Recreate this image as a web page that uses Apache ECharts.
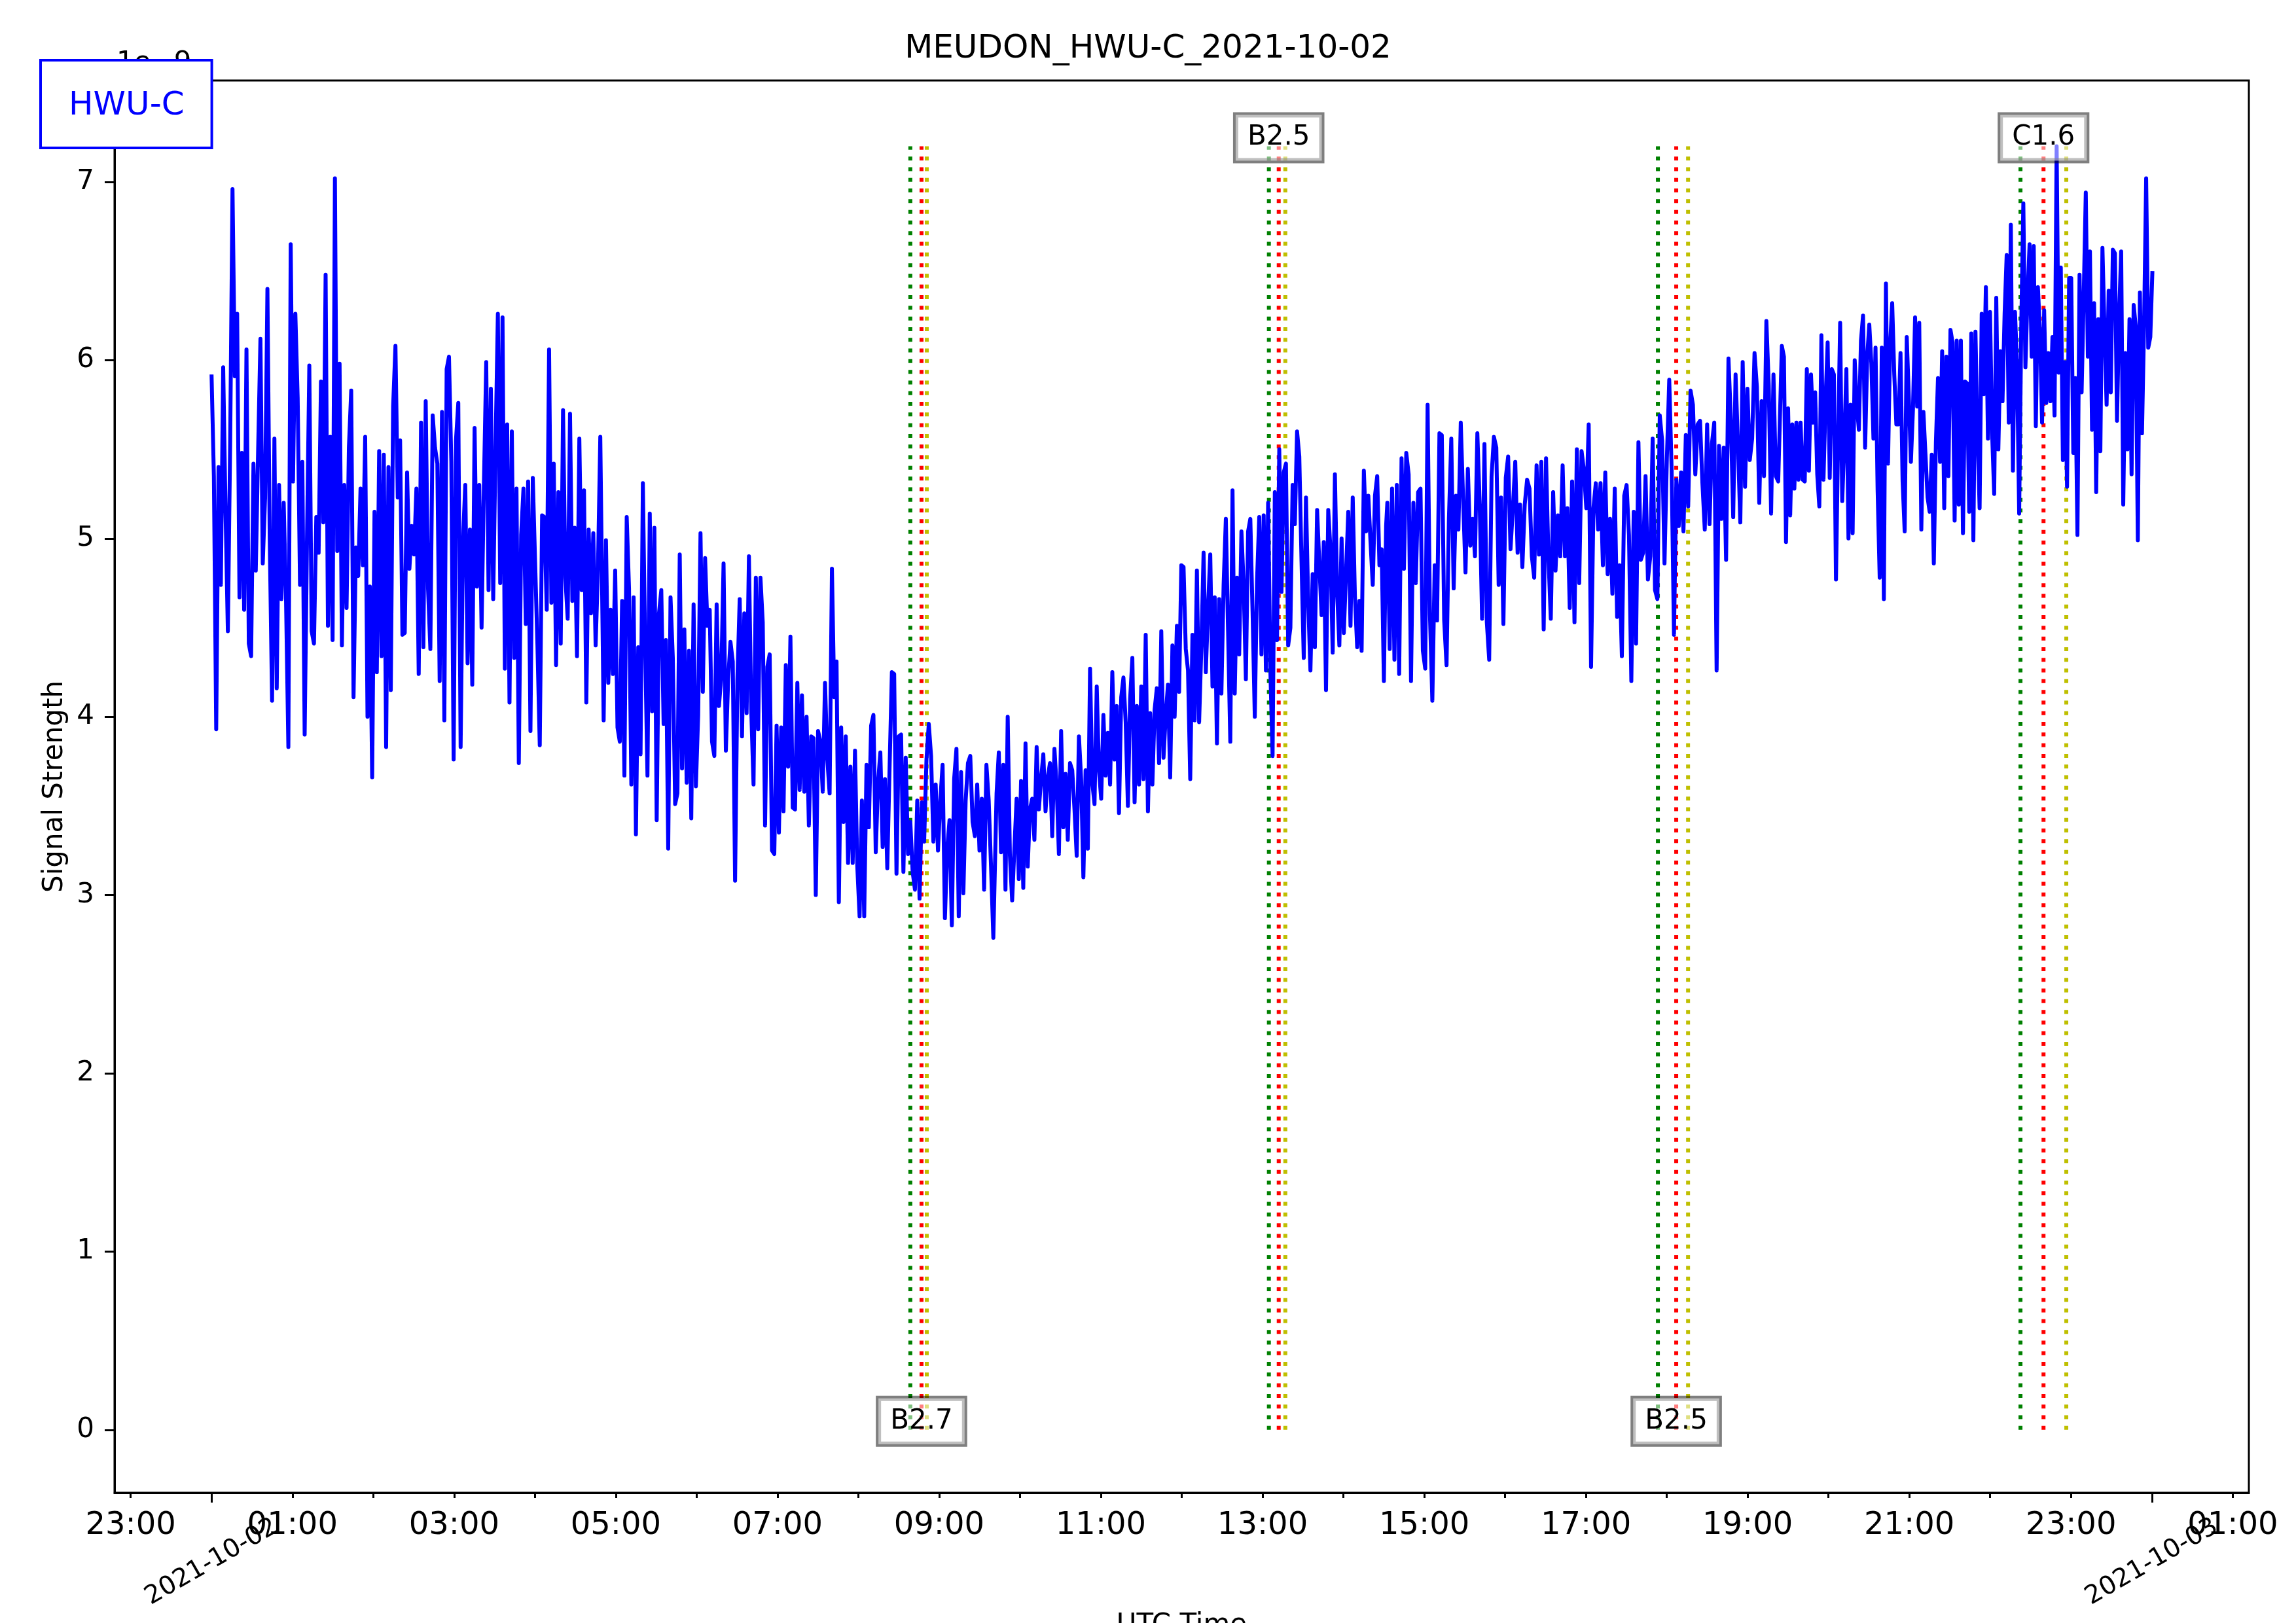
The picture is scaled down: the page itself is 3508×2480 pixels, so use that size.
<!DOCTYPE html>
<html>
<head>
<meta charset="utf-8">
<script src="https://cdn.jsdelivr.net/npm/echarts@6/dist/echarts.min.js"></script>
<style>html,body{margin:0;padding:0;background:#fff}#chart{width:3508px;height:2480px}</style>
</head>
<body>
<div id="chart"></div>
<script>
// ---------------- DATA (signal strength in units of 1e-9, time in minutes after 2021-10-02 00:00 UTC) ----------------
const spanA = [0, 288.5];
const sigA = [5.92,5.35,3.93,5.4,4.74,5.96,5.16,4.48,5.54,6.96,5.91,6.26,4.67,5.48,4.6,6.06,4.41,4.34,5.42,4.82,5.49,6.12,4.86,5.23,6.4,4.99,4.09,5.56,4.16,5.3,4.66,5.2,4.65,3.83,6.65,5.32,6.26,5.79,4.74,5.43,3.9,4.99,5.97,4.48,4.41,5.12,4.92,5.88,5.09,6.48,4.51,5.57,4.43,7.02,4.93,5.98,4.4,5.3,4.61,5.51,5.83,4.11,4.95,4.79,5.28,4.85,5.57,4.0,4.73,3.66,5.15,4.25,5.49,4.34,5.47,3.83,5.4,4.15,5.74,6.08,5.23,5.55,4.46,4.47,5.37,4.83,5.07,4.91,5.28,4.24,5.65,4.39,5.77,4.72,4.38,5.69,5.51,5.42,4.2,5.71,3.98,5.95,6.02,5.43,3.76,5.55,5.76,3.83,4.99,5.3,4.3,5.05,4.18,5.62,4.73,5.3,4.5,5.3,5.99,4.71,5.84,4.66,5.51,6.26,4.75,6.24,4.27,5.64,4.08,5.6,4.33,5.28,3.74,5.02,5.28,4.52,5.32,3.92,5.34,4.87,4.4,3.84,5.13,5.12,4.6,6.06,4.64,5.42,4.29,5.26,4.41,5.72,4.78,4.55,5.7,4.65,5.06,4.34,5.56,4.71,5.27,4.08,5.05,4.58,5.03,4.4,4.83,5.57];
const spanB = [291.0, 580.2];
const sigB = [3.98,4.99,4.19,4.6,4.24,4.82,3.94,3.86,4.65,3.67,5.12,4.72,3.62,4.67,3.34,4.39,3.79,5.31,4.39,3.67,5.14,4.03,5.06,3.42,4.58,4.71,3.96,4.43,3.26,4.67,4.33,3.51,3.57,4.91,3.71,4.49,3.63,4.37,3.43,4.63,3.61,4.01,5.03,4.14,4.89,4.51,4.6,3.86,3.78,4.63,4.06,4.22,4.86,3.81,4.21,4.42,4.31,3.08,4.21,4.66,3.89,4.58,4.02,4.9,4.04,3.62,4.78,3.93,4.78,4.53,3.39,4.28,4.35,3.25,3.23,3.95,3.35,3.94,3.47,4.29,3.72,4.45,3.49,3.48,4.19,3.59,4.12,3.58,4.0,3.39,3.89,3.88,3.0,3.92,3.86,3.58,4.19,3.76,3.57,4.83,4.11,4.31,2.96,3.94,3.41,3.89,3.18,3.72,3.18,3.81,3.16,2.88,3.53,2.88,3.73,3.38,3.95,4.01,3.24,3.63,3.8,3.27,3.65,3.15,3.71,4.25,4.24,3.12,3.89,3.9,3.13,3.77,3.23,3.41,3.13,3.03,3.53,2.98,3.52,3.3,3.76,3.96,3.78,3.3,3.62,3.25,3.53,3.73,2.87,3.26,3.42,2.83,3.65,3.82,2.88,3.69,3.01,3.53,3.74,3.78,3.41,3.33,3.62,3.25,3.54,3.03,3.73,3.53,3.16,2.76];
const spanC = [582.6, 871.7];
const sigC = [3.57,3.8,3.24,3.73,3.03,4.0,3.22,2.97,3.26,3.54,3.09,3.64,3.04,3.85,3.16,3.48,3.54,3.31,3.83,3.48,3.65,3.79,3.47,3.66,3.74,3.33,3.82,3.61,3.23,3.92,3.38,3.68,3.31,3.74,3.7,3.48,3.22,3.89,3.65,3.1,3.7,3.26,4.27,3.63,3.51,4.17,3.7,3.54,4.01,3.67,3.91,3.62,4.25,3.76,4.06,3.46,4.11,4.22,3.97,3.5,4.1,4.33,3.52,4.06,3.62,4.17,3.65,4.46,3.47,4.02,3.62,4.04,4.16,3.74,4.48,3.77,4.01,4.18,3.66,4.4,4.0,4.51,4.14,4.85,4.84,4.38,4.26,3.65,4.46,3.98,4.82,3.97,4.39,4.92,4.25,4.61,4.91,4.17,4.67,3.85,4.66,4.13,4.74,5.11,4.48,3.86,5.27,4.13,4.78,4.35,5.04,4.74,4.21,5.04,5.11,4.59,4.0,4.76,5.12,4.35,5.13,4.26,5.2,4.26,3.78,5.26,4.43,5.5,4.7,5.37,5.42,4.4,4.5,5.3,5.08,5.6,5.46,4.87,4.33,5.23,4.65,4.26,4.8,4.39,5.16,4.86,4.57,4.98,4.15,5.16,4.94,4.36,5.36,4.7,4.4,5.0,4.47,4.81,5.15,4.51,5.23,4.67,4.39,4.65,4.37,5.38,5.04,5.24,4.98,4.74,5.24,5.35,4.85,4.94,4.2,5.07];
const spanD = [872.6, 1162.7];
const sigD = [5.2,4.38,5.28,4.32,5.3,4.24,5.45,4.83,5.48,5.36,4.2,5.2,4.75,5.26,5.28,4.37,4.27,5.75,4.57,4.09,4.85,4.54,5.59,5.58,4.54,4.29,5.11,5.56,4.72,5.24,5.05,5.65,5.22,4.81,5.39,4.96,5.11,4.9,5.59,5.19,4.55,5.53,4.53,4.32,5.35,5.57,5.51,4.74,5.23,4.52,5.34,5.46,4.94,5.17,5.43,4.92,5.19,4.84,5.19,5.33,5.28,4.9,4.78,5.41,4.91,5.43,4.49,5.45,4.9,4.55,5.26,4.82,5.13,4.9,5.41,4.9,5.17,4.61,5.32,4.53,5.5,4.75,5.49,5.38,5.17,5.64,4.28,5.17,5.31,5.05,5.31,4.85,5.37,4.8,5.11,4.69,5.28,4.56,4.85,4.34,5.24,5.3,5.02,4.2,5.15,4.41,5.54,4.88,4.92,5.35,4.77,4.9,5.56,4.71,4.66,5.69,5.55,4.86,5.45,5.89,5.39,4.46,5.33,5.07,5.37,5.04,5.58,5.18,5.83,5.75,5.36,5.64,5.66,5.31,5.05,5.64,5.08,5.53,5.65,4.26,5.52,5.11,5.51,4.88,6.01,5.67,5.12,5.92,5.53,5.09,5.99,5.29,5.84,5.44,5.56,6.04,5.85,5.2,5.77,5.35,6.22,5.86,5.14,5.92,5.35,5.32];
const spanE = [1165.4, 1440.4];
const sigE = [6.08,6.02,4.98,5.73,5.13,5.64,5.28,5.65,5.33,5.65,5.33,5.32,5.95,5.38,5.92,5.65,5.82,5.36,5.18,6.14,5.33,5.77,6.1,5.34,5.95,5.92,4.77,5.54,6.21,5.21,5.54,5.95,5.0,5.75,5.03,6.0,5.75,5.61,6.11,6.25,5.51,6.02,6.2,5.98,5.56,6.07,5.27,4.78,6.07,4.66,6.43,5.42,6.08,6.32,5.92,5.64,5.64,6.04,5.32,5.04,6.13,5.79,5.43,5.73,6.24,5.74,6.21,5.05,5.71,5.47,5.23,5.15,5.47,4.86,5.54,5.9,5.43,6.05,5.17,6.02,5.35,6.17,6.1,5.1,6.11,5.19,6.11,5.03,5.88,5.87,5.15,6.15,4.99,6.16,5.59,5.17,6.26,5.81,6.41,5.56,6.27,5.59,5.25,6.35,5.5,6.05,5.77,6.26,6.59,5.65,6.76,5.38,6.27,5.96,5.14,6.19,6.88,5.96,6.36,6.65,6.02,6.64,5.63,6.41,6.16,5.65,6.28,5.76,6.04,5.77,6.13,5.69,7.2,5.93,6.52,5.44,5.99,5.29,6.46,6.46,5.48,5.9,5.02,6.48,5.82,6.36,6.94,6.02,6.61,5.61,6.32,5.26,6.23,5.49,6.63,6.17,5.75,6.39,5.82,6.62,6.6,5.66,6.25,6.61,5.19,6.04,5.5,6.23,5.36,6.31,6.19,4.99,6.38,5.59,6.2,7.02,6.07,6.13,6.5];

// flare events (minutes after 00:00): start, peak, end, class
const eventStart = [518.6, 784.7, 1073.4, 1342.5];
const eventPeak  = [526.9, 792.0, 1087.0, 1359.6];
const eventEnd   = [530.8, 796.9, 1095.8, 1376.5];
const eventClass = ['B2.7', 'B2.5', 'B2.5', 'C1.6'];
const eventLineTop = 7.2;

// axis ticks and labels
const hourTickMinutes = [-60,0,60,120,180,240,300,360,420,480,540,600,660,720,780,840,900,960,1020,1080,1140,1200,1260,1320,1380,1440,1500];
const hourLabelMinutes = [-60,60,180,300,420,540,660,780,900,1020,1140,1260,1380,1500];
const hourLabels = ['23:00','01:00','03:00','05:00','07:00','09:00','11:00','13:00','15:00','17:00','19:00','21:00','23:00','01:00'];
const dateTickMinutes = [0, 1440];
const dateLabels = ['2021-10-02', '2021-10-03'];
const yTickValues = [0,1,2,3,4,5,6,7];

// ---------------- BUILD ----------------
function seg(span, vals) {
  const n = vals.length;
  return vals.map((v, i) => [span[0] + (span[1] - span[0]) * i / (n - 1), v]);
}
const signalData = [].concat(seg(spanA, sigA), seg(spanB, sigB), seg(spanC, sigC), seg(spanD, sigD), seg(spanE, sigE));

function vlineData(times) {
  const out = [];
  times.forEach(t => { out.push([t, 0]); out.push([t, eventLineTop]); out.push([t, '-']); });
  return out;
}
const labelData = eventPeak.map((t, i) => [t, i % 2 === 0 ? 0 : eventLineTop, eventClass[i]]);

const FONT = 'DejaVu Sans';
const dotted = [6, 10.3];

const chart = echarts.init(document.getElementById('chart'), null, {renderer: 'canvas'});
chart.setOption({
  animation: false,
  backgroundColor: '#ffffff',
  textStyle: {fontFamily: FONT},
  title: {
    text: 'MEUDON_HWU-C_2021-10-02',
    left: 'center', top: 45,
    textStyle: {fontSize: 50, fontWeight: 'normal', color: '#000', fontFamily: FONT}
  },
  legend: {
    data: ['HWU-C'],
    left: 62, top: 92,
    padding: [45, 42, 39, 37],
    itemWidth: 0, itemHeight: 0, itemGap: 0,
    backgroundColor: '#ffffff',
    borderColor: '#0000ff', borderWidth: 4, borderRadius: 0,
    selectedMode: false,
    textStyle: {color: '#0000ff', fontSize: 50, fontFamily: FONT},
    z: 20
  },
  graphic: [{
    type: 'text', left: 178, top: 76, z: 1,
    style: {text: '1e\u22129', fontSize: 42, fill: '#000', fontFamily: FONT}
  }],
  grid: {
    left: 175, right: 72, top: 123, bottom: 199,
    outerBoundsMode: 'none', containLabel: false,
    show: true, borderColor: '#000', borderWidth: 3, backgroundColor: 'transparent'
  },
  xAxis: [{
    type: 'value', min: -72, max: 1512, position: 'bottom',
    axisLine: {show: true, onZero: false, lineStyle: {color: '#000', width: 3}},
    axisTick: {show: true, length: 8, lineStyle: {color: '#000', width: 3}, customValues: hourTickMinutes},
    axisLabel: {
      show: true, customValues: hourLabelMinutes, margin: 27,
      fontSize: 48, color: '#000', fontFamily: FONT,
      formatter: v => { const i = hourLabelMinutes.indexOf(Math.round(v)); return i >= 0 ? hourLabels[i] : ''; }
    },
    splitLine: {show: false},
    name: 'UTC Time', nameLocation: 'middle', nameGap: 182,
    nameTextStyle: {fontSize: 42, color: '#000', fontFamily: FONT}
  }, {
    type: 'value', min: -72, max: 1512, position: 'bottom',
    axisLine: {show: false, onZero: false},
    axisTick: {show: true, length: 15, lineStyle: {color: '#000', width: 3}, customValues: dateTickMinutes},
    axisLabel: {
      show: true, customValues: dateTickMinutes, rotate: 30, align: 'center', verticalAlign: 'middle',
      margin: 106, fontSize: 39, color: '#000', fontFamily: FONT,
      formatter: v => { const i = dateTickMinutes.indexOf(Math.round(v)); return i >= 0 ? dateLabels[i] : ''; }
    },
    splitLine: {show: false}
  }],
  yAxis: {
    type: 'value', min: -0.353, max: 7.569,
    axisLine: {show: true, onZero: false, lineStyle: {color: '#000', width: 3}},
    axisTick: {show: true, length: 15, lineStyle: {color: '#000', width: 3}, customValues: yTickValues},
    axisLabel: {show: true, customValues: yTickValues, margin: 31, fontSize: 42, color: '#000', fontFamily: FONT},
    splitLine: {show: false},
    name: 'Signal Strength', nameLocation: 'middle', nameGap: 70,
    nameTextStyle: {fontSize: 42, color: '#000', fontFamily: FONT}
  },
  series: [
    {name: 'start', type: 'line', data: vlineData(eventStart), showSymbol: false, connectNulls: false, z: 1,
     lineStyle: {color: '#008000', width: 6, type: dotted, cap: 'butt'}, emphasis: {disabled: true}, silent: true},
    {name: 'peak', type: 'line', data: vlineData(eventPeak), showSymbol: false, connectNulls: false, z: 1,
     lineStyle: {color: '#ff0000', width: 6, type: dotted, cap: 'butt'}, emphasis: {disabled: true}, silent: true},
    {name: 'end', type: 'line', data: vlineData(eventEnd), showSymbol: false, connectNulls: false, z: 1,
     lineStyle: {color: '#bfbf00', width: 6, type: dotted, cap: 'butt'}, emphasis: {disabled: true}, silent: true},
    {name: 'HWU-C', type: 'line', data: signalData, showSymbol: false, sampling: null, z: 2,
     itemStyle: {color: '#0000ff'},
     lineStyle: {color: '#0000ff', width: 6, join: 'round'}, emphasis: {disabled: true}, silent: true},
    {name: 'events', type: 'scatter', data: labelData, symbolSize: 2,
     itemStyle: {color: 'rgba(255,255,255,0)', opacity: 1}, z: 5,
     clip: false,
     label: {
       show: true, position: ['50%', '50%'], align: 'center', verticalAlign: 'middle', offset: [0, -13],
       formatter: p => p.data[2],
       fontSize: 42, lineHeight: 44, color: '#000000', fontFamily: FONT,
       textBorderWidth: 0,
       backgroundColor: 'rgba(255,255,255,0.5)', borderColor: 'rgba(0,0,0,0.5)', borderWidth: 4,
       padding: [13, 18]
     },
     emphasis: {disabled: true}, silent: true}
  ]
});
</script>
</body>
</html>
